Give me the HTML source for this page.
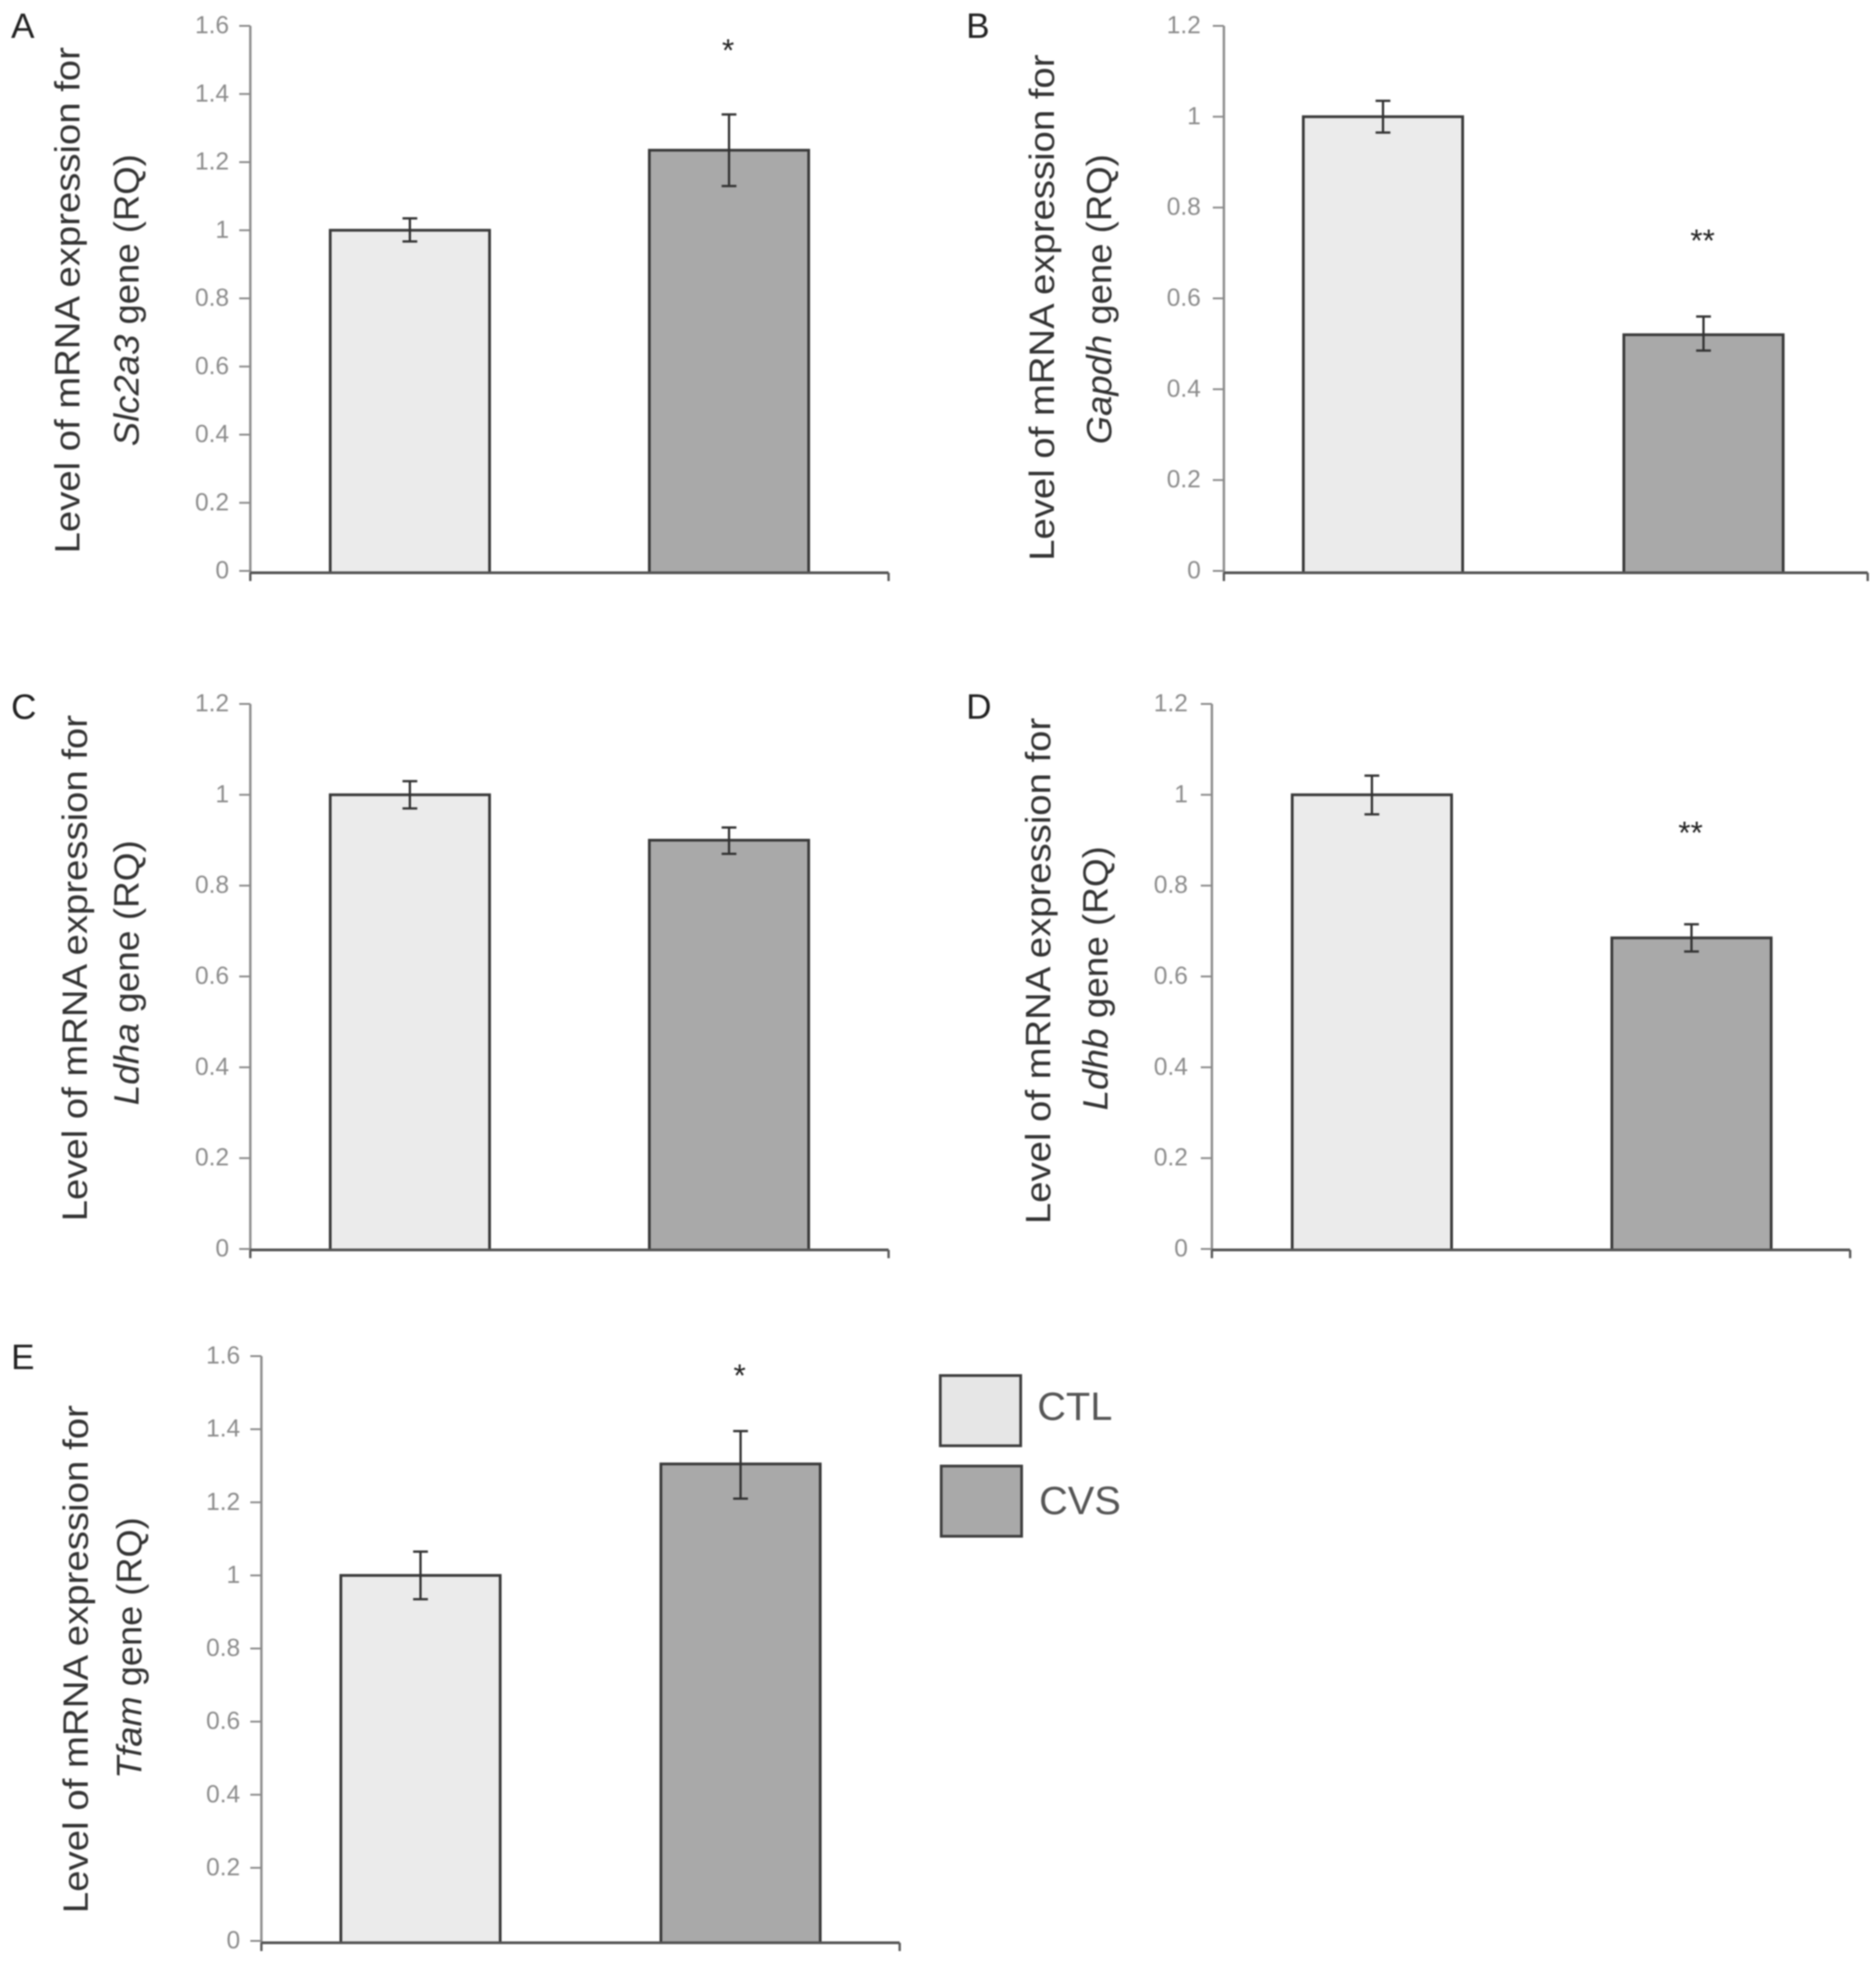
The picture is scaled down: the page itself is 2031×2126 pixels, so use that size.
<!DOCTYPE html>
<html lang="en">
<head>
<meta charset="utf-8">
<title>mRNA expression bar charts</title>
<style>
html,body{margin:0;padding:0;background:#fff;}
svg{display:block;filter:blur(0.7px);}
text{font-family:"Liberation Sans",sans-serif;}
.ttl{font-size:38px;fill:#333;text-anchor:middle;}
.lett{font-size:38px;fill:#222;}
.leg{font-size:43px;fill:#555;}
.tick{font-size:26.5px;fill:#8c8c8c;text-anchor:end;}
.star{font-size:34px;fill:#222;text-anchor:middle;}
</style>
</head>
<body>
<svg id="fig" xmlns="http://www.w3.org/2000/svg" width="2031" height="2126" viewBox="0 0 2031 2126">
<rect width="2031" height="2126" fill="#fff"/>

<text class="lett" x="12" y="41">A</text>
<text class="lett" x="1046" y="41">B</text>
<text class="lett" x="12" y="778">C</text>
<text class="lett" x="1046" y="778">D</text>
<text class="lett" x="12" y="1482">E</text>

<g>
<text class="ttl" transform="translate(86 325) rotate(-90)" textLength="548" lengthAdjust="spacingAndGlyphs">Level of mRNA expression for</text>
<text class="ttl" transform="translate(150 325) rotate(-90)" textLength="316" lengthAdjust="spacingAndGlyphs"><tspan font-style="italic">Slc2a3</tspan> gene (RQ)</text>
</g>
<g>
<text class="ttl" transform="translate(1141 333) rotate(-90)" textLength="548" lengthAdjust="spacingAndGlyphs">Level of mRNA expression for</text>
<text class="ttl" transform="translate(1203 324) rotate(-90)" textLength="314" lengthAdjust="spacingAndGlyphs"><tspan font-style="italic">Gapdh</tspan> gene (RQ)</text>
</g>
<g>
<text class="ttl" transform="translate(94 1048) rotate(-90)" textLength="548" lengthAdjust="spacingAndGlyphs">Level of mRNA expression for</text>
<text class="ttl" transform="translate(150 1053) rotate(-90)" textLength="287" lengthAdjust="spacingAndGlyphs"><tspan font-style="italic">Ldha</tspan> gene (RQ)</text>
</g>
<g>
<text class="ttl" transform="translate(1137 1051) rotate(-90)" textLength="548" lengthAdjust="spacingAndGlyphs">Level of mRNA expression for</text>
<text class="ttl" transform="translate(1199 1059) rotate(-90)" textLength="286" lengthAdjust="spacingAndGlyphs"><tspan font-style="italic">Ldhb</tspan> gene (RQ)</text>
</g>
<g>
<text class="ttl" transform="translate(95 1796) rotate(-90)" textLength="550" lengthAdjust="spacingAndGlyphs">Level of mRNA expression for</text>
<text class="ttl" transform="translate(153 1784) rotate(-90)" textLength="283" lengthAdjust="spacingAndGlyphs"><tspan font-style="italic">Tfam</tspan> gene (RQ)</text>
</g>

<g>
<rect x="1018" y="1489" width="87" height="76" fill="#e6e6e6" stroke="#3f3f3f" stroke-width="3"/>
<text class="leg" x="1123" y="1537">CTL</text>
<rect x="1019" y="1587" width="87" height="76" fill="#a9a9a9" stroke="#3f3f3f" stroke-width="3"/>
<text class="leg" x="1125" y="1639">CVS</text>
</g>
<g id="charts"></g>
</svg>
<script>
// Data
const panelIds = ['a', 'b', 'c', 'd', 'e'];
const categories = ['CTL', 'CVS'];
const tickLabelsA = ['0', '0.2', '0.4', '0.6', '0.8', '1', '1.2', '1.4', '1.6'];
const tickLabelsB = ['0', '0.2', '0.4', '0.6', '0.8', '1', '1.2'];
const tickLabelsC = ['0', '0.2', '0.4', '0.6', '0.8', '1', '1.2'];
const tickLabelsD = ['0', '0.2', '0.4', '0.6', '0.8', '1', '1.2'];
const tickLabelsE = ['0', '0.2', '0.4', '0.6', '0.8', '1', '1.2', '1.4', '1.6'];
const meansA = [1, 1.235];
const meansB = [1, 0.52];
const meansC = [1, 0.9];
const meansD = [1, 0.685];
const meansE = [1, 1.305];
const errHighA = [1.035, 1.34];
const errHighB = [1.035, 0.56];
const errHighC = [1.03, 0.928];
const errHighD = [1.042, 0.715];
const errHighE = [1.065, 1.395];
const errLowA = [0.967, 1.13];
const errLowB = [0.965, 0.485];
const errLowC = [0.97, 0.87];
const errLowD = [0.957, 0.655];
const errLowE = [0.935, 1.21];
const sigMarksA = ['', '*'];
const sigMarksB = ['', '**'];
const sigMarksC = ['', ''];
const sigMarksD = ['', '**'];
const sigMarksE = ['', '*'];
const sigLevelsA = [0, 1.538];
const sigLevelsB = [0, 0.734];
const sigLevelsC = [0, 0];
const sigLevelsD = [0, 0.923];
const sigLevelsE = [0, 1.556];

const dataSets = {
  a: {ticks: tickLabelsA, means: meansA, hi: errHighA, lo: errLowA, marks: sigMarksA, levels: sigLevelsA},
  b: {ticks: tickLabelsB, means: meansB, hi: errHighB, lo: errLowB, marks: sigMarksB, levels: sigLevelsB},
  c: {ticks: tickLabelsC, means: meansC, hi: errHighC, lo: errLowC, marks: sigMarksC, levels: sigLevelsC},
  d: {ticks: tickLabelsD, means: meansD, hi: errHighD, lo: errLowD, marks: sigMarksD, levels: sigLevelsD},
  e: {ticks: tickLabelsE, means: meansE, hi: errHighE, lo: errLowE, marks: sigMarksE, levels: sigLevelsE}
};

// Layout (pixels) kept apart from the data; "zero" is where value 0 falls on the ticks, "base" is the drawn x axis
const layouts = {
  a: {left: 271, right: 962, top: 28, zero: 618, base: 620, barL: [357.5, 703], barW: 172.5, labelGap: 23},
  b: {left: 1325, right: 2022, top: 28, zero: 618, base: 620, barL: [1411, 1758], barW: 172.5, labelGap: 25},
  c: {left: 271, right: 962, top: 762, zero: 1352, base: 1353, barL: [357.5, 703], barW: 172.5, labelGap: 23},
  d: {left: 1312, right: 2003, top: 762, zero: 1352, base: 1353, barL: [1399, 1745], barW: 172.5, labelGap: 26},
  e: {left: 283, right: 974, top: 1468, zero: 2101, base: 2103, barL: [369, 715.5], barW: 172.5, labelGap: 23}
};
const fills = ['#ebebeb', '#a9a9a9'];
const NS = 'http://www.w3.org/2000/svg';

function mk(parent, tag, attrs, txt) {
  const el = document.createElementNS(NS, tag);
  for (const k in attrs) el.setAttribute(k, attrs[k]);
  if (txt !== undefined) el.textContent = txt;
  parent.appendChild(el);
  return el;
}

const root = document.getElementById('charts');

panelIds.forEach(function (id) {
  const d = dataSets[id];
  const L = layouts[id];
  const maxV = parseFloat(d.ticks[d.ticks.length - 1]);
  const yScale = function (v) { return L.zero - (v / maxV) * (L.zero - L.top); };

  const g = mk(root, 'g', {});
  
  

  d.means.forEach(function (v, i) {
    const x = L.barL[i];
    const y = yScale(v);
    const bar = mk(g, 'rect', {x: x, y: y, width: L.barW, height: L.base - y, fill: fills[i], stroke: '#3a3a3a', 'stroke-width': 3});
    
    
  });

  const yAxis = mk(g, 'line', {x1: L.left, x2: L.left, y1: yScale(maxV), y2: L.base, stroke: '#8a8a8a', 'stroke-width': 2.5});
  
  

  const xAxis = mk(g, 'line', {x1: L.left, x2: L.right, y1: L.base, y2: L.base, stroke: '#555', 'stroke-width': 3});
  
  

  [L.left, L.right].forEach(function (x, i) {
    const t = mk(g, 'line', {x1: x, x2: x, y1: L.base, y2: L.base + 9, stroke: '#555', 'stroke-width': 2.5});
    
    
  });

  d.ticks.forEach(function (lab) {
    const y = yScale(parseFloat(lab));
    const t = mk(g, 'line', {x1: L.left - 12, x2: L.left, y1: y, y2: y, stroke: '#8a8a8a', 'stroke-width': 2});
    
    
    const s = mk(g, 'text', {x: L.left - L.labelGap, y: y + 8, 'class': 'tick'}, lab);
    
    
  });

  d.means.forEach(function (v, i) {
    const cx = L.barL[i] + L.barW / 2;
    const yh = yScale(d.hi[i]);
    const yl = yScale(d.lo[i]);
    const e = mk(g, 'path', {d: 'M' + (cx - 8) + ' ' + yh + 'H' + (cx + 8) + 'M' + cx + ' ' + yh + 'V' + yl + 'M' + (cx - 8) + ' ' + yl + 'H' + (cx + 8), fill: 'none', stroke: '#333', 'stroke-width': 2.5});
    
    
    if (d.marks[i]) {
      const st = mk(g, 'text', {x: cx - 1, y: yScale(d.levels[i]) + 15, 'class': 'star'}, d.marks[i]);
      
      
    }
  });
});
</script>
</body>
</html>
